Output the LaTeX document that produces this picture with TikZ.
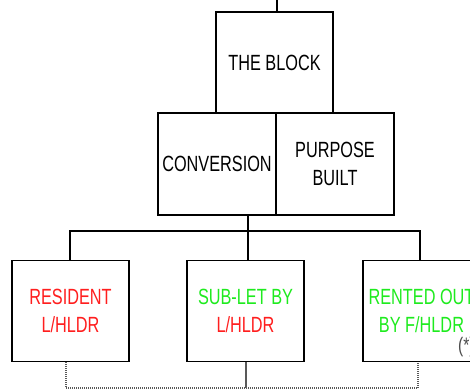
\documentclass[tikz,border=0pt]{standalone}
\usepackage{fontspec}
\setmainfont[FakeStretch=0.74]{Liberation Sans}
\definecolor{txtred}{RGB}{255,30,30}
\definecolor{txtgreen}{RGB}{30,235,30}
\begin{document}
\begin{tikzpicture}[x=1pt,y=-1pt,
  box/.style={draw,inner sep=0pt,minimum width=117pt,minimum height=101pt,align=center,
    font=\fontsize{22}{27.5}\selectfont},
  thinbox/.style={box,line width=1.5pt},
  thickbox/.style={box,line width=2.6pt},
  thickline/.style={line width=2.8pt},
  thinline/.style={line width=1.3pt},
  dotline/.style={draw=gray!70!black,line width=1.7pt,dash pattern=on 1.2pt off 0.8pt}]
\useasboundingbox (0,0) rectangle (470,390);
\clip (0,0) rectangle (470,390);
\fill[white] (0,0) rectangle (470,390);
% top box
\node[thinbox] (block) at (274.5,62.5) {THE BLOCK};
% middle pair
\node[thickbox,minimum width=118pt,minimum height=102pt] (conv) at (217,164) {CONVERSION};
\node[thickbox,minimum width=118pt,minimum height=102pt] (purp) at (335,164) {PURPOSE\\BUILT};
% bottom row
\node[thinbox] (res) at (70.5,311) {\color{txtred}RESIDENT\\\color{txtred}L/HLDR};
\node[thickbox,line width=1.9pt] (sub) at (245.5,311) {\color{txtgreen}SUB-LET BY\\\color{txtred}L/HLDR};
\node[thinbox] (rent) at (421.5,311) {\color{txtgreen}RENTED OUT\\\color{txtgreen}BY F/HLDR};
\node[anchor=west,inner sep=0pt,font=\fontsize{21}{21}\selectfont,text=black!70] (star) at (458,347) {(*)};
% connectors
\coordinate (top) at (277,0);
\draw[thickline] (top) -- (top |- block.north);
\coordinate (busL) at (70,231);
\coordinate (busR) at (420,231);
\coordinate (busM) at (248,231);
\draw[thickline] (busL |- res.north) -- (busL) -- (busR) -- (busR |- rent.north);
\draw[thinline] (busM |- conv.south) -- (busM |- sub.north);
\coordinate (dl) at (66,388);
\coordinate (dm) at (246,388);
\coordinate (dr) at (418,388);
\draw[dotline] (dl |- res.south) -- (dl) -- (dr) -- (dr |- rent.south);
\draw[dotline] (dm |- sub.south) -- (dm);
\end{tikzpicture}
\end{document}
